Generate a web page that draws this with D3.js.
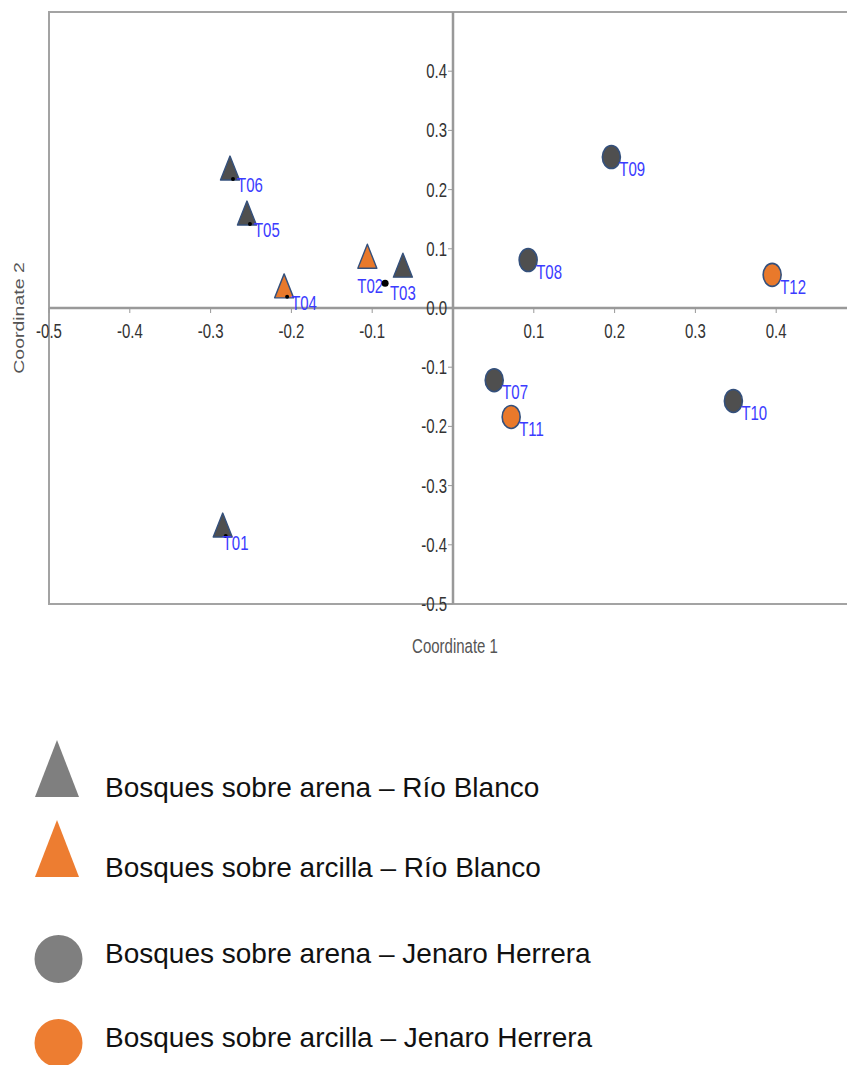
<!DOCTYPE html>
<html>
<head>
<meta charset="utf-8">
<script src="https://cdn.jsdelivr.net/npm/d3@7"></script>
<style>
  html, body { margin: 0; padding: 0; background: #fff; }
  svg { display: block; }
</style>
</head>
<body>
<div id="chart"></div>
<script>
/* ===== Data ===== */

const SITES   = ['T01', 'T02', 'T03', 'T04', 'T05', 'T06', 'T07', 'T08', 'T09', 'T10', 'T11', 'T12'];
const COORD_1 = [-0.285, -0.106, -0.062, -0.209, -0.255, -0.276, 0.051, 0.093, 0.196, 0.347, 0.072, 0.395];
const COORD_2 = [-0.370, 0.084, 0.069, 0.034, 0.157, 0.233, -0.122, 0.081, 0.255, -0.157, -0.184, 0.056];
// group index into GROUPS
const SITE_GROUP = [0, 1, 0, 1, 0, 0, 2, 2, 2, 2, 3, 3];

const GROUPS = [
  'Bosques sobre arena – Río Blanco',
  'Bosques sobre arcilla – Río Blanco',
  'Bosques sobre arena – Jenaro Herrera',
  'Bosques sobre arcilla – Jenaro Herrera'
];
const GROUP_SHAPE = ['triangle', 'triangle', 'circle', 'circle'];
const GROUP_SOIL  = ['arena', 'arcilla', 'arena', 'arcilla'];

// 0.5 sits just past the right edge of the picture, so it is left out
const X_TICKS = [-0.5, -0.4, -0.3, -0.2, -0.1, 0.1, 0.2, 0.3, 0.4];
const Y_TICKS = [0.4, 0.3, 0.2, 0.1, 0.0, -0.1, -0.2, -0.3, -0.4, -0.5];

// the lone black point between T02 and T03
const EXTRA_DOT = [-0.084, 0.042];

/* ===== Chart ===== */

const width = 847, height = 1065;
const STRETCH = 1.3;   // the plot image is squeezed tall

const plotColor = { arena: '#4f4f4f', arcilla: '#e9792b' };
const legendColor = { arena: '#7f7f7f', arcilla: '#ed7d31' };

const svg = d3.select('#chart').append('svg')
  .attr('width', width).attr('height', height);

const x = d3.scaleLinear().domain([-0.5, 0.5]).range([49, 857]);
const y = d3.scaleLinear().domain([-0.5, 0.5]).range([604, 12]);

function tallText(g, px, py, str, anchor, size, color) {
  return g.append('text')
    .attr('transform', `translate(${px},${py}) scale(1,${STRETCH})`)
    .attr('text-anchor', anchor)
    .style('font-family', '"Liberation Sans", Arial, sans-serif')
    .style('font-size', size + 'px')
    .style('fill', color)
    .text(str);
}

// Frame
svg.append('rect')
  .attr('x', x(-0.5)).attr('y', y(0.5))
  .attr('width', x(0.5) - x(-0.5)).attr('height', y(-0.5) - y(0.5))
  .attr('fill', 'none').attr('stroke', '#a3a3a3').attr('stroke-width', 2);

// Zero axes
const axG = svg.append('g');
axG.append('line')
  .attr('x1', x(-0.5)).attr('x2', x(0.5)).attr('y1', y(0)).attr('y2', y(0))
  .attr('stroke', '#999').attr('stroke-width', 2.5);
axG.append('line')
  .attr('x1', x(0)).attr('x2', x(0)).attr('y1', y(0.5)).attr('y2', y(-0.5))
  .attr('stroke', '#999').attr('stroke-width', 2.5);

// X ticks
X_TICKS.forEach(t => {
  axG.append('line')
    .attr('x1', x(t)).attr('x2', x(t)).attr('y1', y(0)).attr('y2', y(0) + 5)
    .attr('stroke', '#999').attr('stroke-width', 1);
  tallText(axG, x(t), 338, d3.format('.1f')(t).replace('−', '-'), 'middle', 15, '#333');
});

// Y ticks
Y_TICKS.forEach(t => {
  axG.append('line')
    .attr('x1', x(0) - 5).attr('x2', x(0)).attr('y1', y(t)).attr('y2', y(t))
    .attr('stroke', '#999').attr('stroke-width', 1);
  tallText(axG, x(0) - 6, y(t) + 7, d3.format('.1f')(t).replace('−', '-'), 'end', 15, '#333');
});

// Axis titles
tallText(svg, 455, 653, 'Coordinate 1', 'middle', 15, '#555');
svg.append('text')
  .attr('transform', `translate(24,318) rotate(-90) scale(${STRETCH},1)`)
  .attr('text-anchor', 'middle')
  .style('font-family', '"Liberation Sans", Arial, sans-serif')
  .style('font-size', '15px')
  .style('fill', '#555')
  .text('Coordinate 2');

// Points
const TRI_W = 19, TRI_H = 24;
const points = SITES.map((s, i) => ({
  name: s, cx: COORD_1[i], cy: COORD_2[i], group: SITE_GROUP[i]
}));

// label offsets: default per shape, a couple nudged by hand
const labelNudge = { T02: [-10, 35], T03: [-13, 33], T01: [0, 23] };
const dotted = ['T01', 'T04', 'T05', 'T06'];

const ptG = svg.append('g');
points.forEach(p => {
  const px = x(p.cx), py = y(p.cy);
  const shape = GROUP_SHAPE[p.group];
  const fill = plotColor[GROUP_SOIL[p.group]];
  if (shape === 'triangle') {
    ptG.append('path')
      .attr('d', `M${px},${py - 14} L${px + TRI_W / 2},${py + 10} L${px - TRI_W / 2},${py + 10} Z`)
      .attr('fill', fill).attr('stroke', '#34507c').attr('stroke-width', 1.4)
      .attr('stroke-linejoin', 'round');
  } else {
    ptG.append('ellipse')
      .attr('cx', px).attr('cy', py).attr('rx', 9).attr('ry', 11.5)
      .attr('fill', fill).attr('stroke', '#34507c').attr('stroke-width', 1.6);
  }
  if (dotted.includes(p.name)) {
    ptG.append('circle').attr('cx', px + 3).attr('cy', py + 9).attr('r', 2).attr('fill', '#000');
  }
  const off = labelNudge[p.name] || (shape === 'triangle' ? [7, 22] : [8, 19]);
  tallText(ptG, px + off[0], py + off[1], p.name, 'start', 15, '#3b3bff');
});

ptG.append('circle')
  .attr('cx', x(EXTRA_DOT[0])).attr('cy', y(EXTRA_DOT[1])).attr('r', 3.5)
  .attr('fill', '#000');

// Legend
const LEG_TOP = [797, 877, 963, 1047];
const legG = svg.append('g');
GROUPS.forEach((label, i) => {
  const base = LEG_TOP[i];
  const fill = legendColor[GROUP_SOIL[i]];
  if (GROUP_SHAPE[i] === 'triangle') {
    legG.append('path')
      .attr('d', `M57,${base - 57} L79,${base} L35,${base} Z`)
      .attr('fill', fill);
  } else {
    legG.append('circle')
      .attr('cx', 58.5).attr('cy', base - 4).attr('r', 24)
      .attr('fill', fill);
  }
  legG.append('text')
    .attr('x', 105).attr('y', base)
    .style('font-family', '"Liberation Sans", Arial, sans-serif')
    .style('font-size', '28px')
    .style('fill', '#111')
    .text(label);
});
</script>
</body>
</html>
